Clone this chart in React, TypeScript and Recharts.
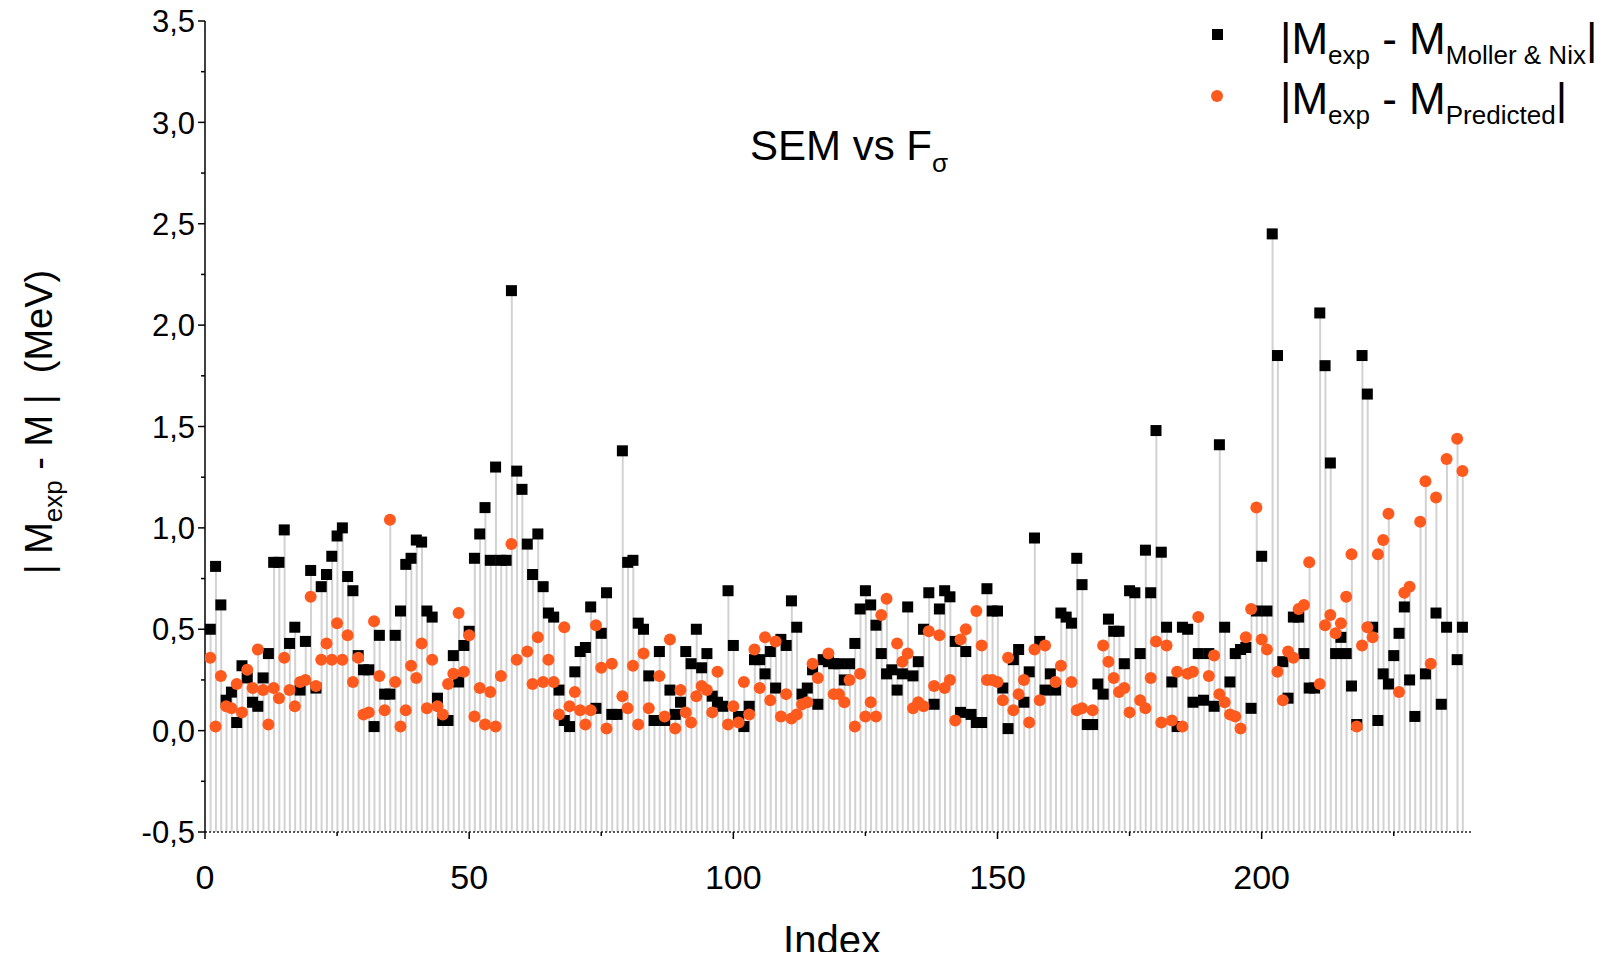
import { Bar, ComposedChart, Scatter, XAxis, YAxis } from 'recharts'

// |Mexp - M Moller & Nix| for index 1..238 (null = not visible)
const mollerNix: (number | null)[] = [
  0.5, 0.81, 0.62, 0.15, 0.19, 0.04, 0.32, 0.26, 0.14, 0.12, 0.26, 0.38, 0.83, 0.83, 0.99, 0.43, 0.51, 0.2, 0.44, 0.79,
  0.21, 0.71, 0.77, 0.86, 0.96, 1.0, 0.76, 0.69, 0.37, 0.3, 0.3, 0.02, 0.47, 0.18, 0.18, 0.47, 0.59, 0.82, 0.85, 0.94,
  0.93, 0.59, 0.56, 0.16, 0.05, 0.05, 0.37, 0.24, 0.42, 0.49, 0.85, 0.97, 1.1, 0.84, 1.3, 0.84, 0.84, 2.17, 1.28, 1.19,
  0.92, 0.77, 0.97, 0.71, 0.58, 0.56, 0.2, 0.05, 0.02, 0.29, 0.39, 0.41, 0.61, 0.11, 0.48, 0.68, 0.08, 0.08, 1.38, 0.83,
  0.84, 0.53, 0.5, 0.27, 0.05, 0.39, 0.05, 0.2, 0.08, 0.14, 0.39, 0.33, 0.5, 0.31, 0.38, 0.17, 0.14, 0.12, 0.69, 0.42,
  0.07, 0.02, 0.12, 0.35, 0.35, 0.28, 0.39, 0.21, 0.45, 0.42, 0.64, 0.51, 0.18, 0.21, 0.3, 0.13, 0.35, 0.34, 0.33, 0.33,
  0.25, 0.33, 0.43, 0.6, 0.69, 0.62, 0.52, 0.38, 0.28, 0.3, 0.2, 0.28, 0.61, 0.27, 0.34, 0.5, 0.68, 0.13, 0.6, 0.69,
  0.66, 0.44, 0.09, 0.39, 0.08, 0.04, 0.04, 0.7, 0.59, 0.59, 0.21, 0.01, 0.35, 0.4, 0.14, 0.29, 0.95, 0.44, 0.2, 0.28,
  0.2, 0.58, 0.56, 0.53, 0.85, 0.72, 0.03, 0.03, 0.23, 0.18, 0.55, 0.49, 0.49, 0.33, 0.69, 0.68, 0.38, 0.89, 0.68, 1.48,
  0.88, 0.51, 0.24, 0.02, 0.51, 0.5, 0.14, 0.38, 0.15, 0.38, 0.12, 1.41, 0.51, 0.24, 0.38, 0.4, 0.41, 0.11, 0.59, 0.86,
  0.59, 2.45, 1.85, 0.34, 0.16, 0.56, 0.56, 0.38, 0.21, 0.21, 2.06, 1.8, 1.32, 0.38, 0.46, 0.38, 0.22, 0.03, 1.85, 1.66,
  0.51, 0.05, 0.28, 0.23, 0.37, 0.48, 0.61, 0.25, 0.07, null, 0.28, null, 0.58, 0.13, 0.51, null, 0.35, 0.51,
]

// |Mexp - M Predicted| for index 1..238
const predicted: (number | null)[] = [
  0.36, 0.02, 0.27, 0.12, 0.11, 0.23, 0.09, 0.3, 0.21, 0.4, 0.2, 0.03, 0.21, 0.16, 0.36, 0.2, 0.12, 0.24, 0.25, 0.66,
  0.22, 0.35, 0.43, 0.35, 0.53, 0.35, 0.47, 0.24, 0.36, 0.08, 0.09, 0.54, 0.27, 0.1, 1.04, 0.24, 0.02, 0.1, 0.32, 0.26,
  0.43, 0.11, 0.35, 0.12, 0.08, 0.23, 0.28, 0.58, 0.29, 0.47, 0.07, 0.21, 0.03, 0.19, 0.02, 0.27, null, 0.92, 0.35, null,
  0.39, 0.23, 0.46, 0.24, 0.35, 0.24, 0.08, 0.51, 0.12, 0.19, 0.1, 0.03, 0.1, 0.52, 0.31, 0.01, 0.33, null, 0.17, 0.11,
  0.32, 0.03, 0.38, 0.11, null, 0.27, 0.07, 0.45, 0.01, 0.2, 0.09, 0.04, 0.17, 0.22, 0.2, 0.09, 0.29, null, 0.03, 0.12,
  0.04, 0.24, 0.08, 0.4, 0.21, 0.46, 0.15, 0.44, 0.07, 0.18, 0.06, 0.08, 0.13, 0.14, 0.33, 0.26, null, 0.38, 0.18, 0.18,
  0.14, 0.25, 0.02, 0.28, 0.07, 0.14, 0.07, 0.57, 0.65, null, 0.43, 0.34, 0.38, 0.11, 0.14, 0.12, 0.49, 0.22, 0.47, 0.21,
  0.25, 0.05, 0.45, 0.5, null, 0.59, 0.42, 0.25, 0.25, 0.24, 0.15, 0.36, 0.1, 0.18, 0.25, 0.04, 0.4, 0.15, 0.42, null,
  0.24, 0.32, null, 0.24, 0.1, 0.11, null, 0.1, null, 0.42, 0.34, 0.26, 0.19, 0.21, 0.09, null, 0.15, 0.11, 0.26, 0.44,
  0.04, 0.42, 0.05, 0.29, 0.02, 0.28, 0.29, 0.56, null, 0.27, 0.37, 0.18, 0.14, 0.08, 0.07, 0.01, 0.46, 0.6, 1.1, 0.45,
  0.4, null, 0.29, 0.15, 0.39, 0.36, 0.6, 0.62, 0.83, null, 0.23, 0.52, 0.57, 0.48, 0.53, 0.66, 0.87, 0.02, 0.42, 0.51,
  0.46, 0.87, 0.94, 1.07, null, 0.19, 0.68, 0.71, null, 1.03, 1.23, 0.33, 1.15, null, 1.34, null, 1.44, 1.28,
]

const yTicks = [-0.5, -0.25, 0, 0.25, 0.5, 0.75, 1, 1.25, 1.5, 1.75, 2, 2.25, 2.5, 2.75, 3, 3.25, 3.5]
const xTicks = [0, 25, 50, 75, 100, 125, 150, 175, 200, 225]
const xLabelled = [0, 50, 100, 150, 200]

const BASE = -0.5
const FONT = '"Liberation Sans", Arial, Helvetica, sans-serif'
const ORANGE = '#ff5a1e'

const stems = mollerNix.map((b, k) => ({
  i: k + 1,
  top: Math.max(b ?? BASE, predicted[k] ?? BASE),
}))
const blackPts = mollerNix.flatMap((v, k) => (v == null ? [] : [{ i: k + 1, v }]))
const orangePts = predicted.flatMap((v, k) => (v == null ? [] : [{ i: k + 1, v }]))

const fmt = (v: number) => v.toFixed(1).replace('.', ',')

function YTick(props: any) {
  const { x, y, payload } = props
  const major = Math.abs(payload.value * 2 - Math.round(payload.value * 2)) < 1e-6
  return (
    <g>
      <line x1={x - (major ? 7 : 4)} x2={x} y1={y} y2={y} stroke='#000' strokeWidth={1.5} />
      {major && (
        <text x={x - 10} y={y} dy='0.36em' textAnchor='end' fontSize={31} fontFamily={FONT} fill='#000'>
          {fmt(payload.value)}
        </text>
      )}
    </g>
  )
}

function XTick(props: any) {
  const { x, y, payload } = props
  const major = xLabelled.includes(payload.value)
  return (
    <g>
      <line x1={x} x2={x} y1={y} y2={y + (major ? 7 : 4)} stroke='#000' strokeWidth={1.5} />
      {major && (
        <text x={x} y={y + 57} textAnchor='middle' fontSize={34} fontFamily={FONT} fill='#000'>
          {payload.value}
        </text>
      )}
    </g>
  )
}

const Square = (p: any) => <rect x={p.cx - 5.5} y={p.cy - 5.5} width={11} height={11} fill='#000' />
const Dot = (p: any) => <circle cx={p.cx} cy={p.cy} r={6} fill={ORANGE} />

const sub = { fontSize: 26, verticalAlign: 'baseline', position: 'relative' as const, top: 10 }

export default function App() {
  return (
    <div style={{ position: 'relative', width: 1598, height: 944, fontFamily: FONT, color: '#000' }}>
      <div style={{ position: 'absolute', left: 0, top: -8 }}>
        <ComposedChart width={1598} height={960} data={stems} margin={{ top: 21, right: 133, bottom: 8, left: 0 }}>
          <XAxis
            dataKey='i'
            type='number'
            domain={[0, 240]}
            ticks={xTicks}
            interval={0}
            allowDataOverflow
            height={120}
            tickSize={0}
            tickMargin={0}
            tickLine={false}
            tick={<XTick />}
            axisLine={{ stroke: '#222', strokeWidth: 1.5, strokeDasharray: '2 2' }}
          />
          <YAxis
            type='number'
            domain={[-0.5, 3.5]}
            ticks={yTicks}
            interval={0}
            allowDataOverflow
            width={197}
            tickSize={0}
            tickMargin={0}
            tickLine={false}
            tick={<YTick />}
            axisLine={{ stroke: '#000', strokeWidth: 1.5 }}
          />
          <Bar dataKey={(d: any) => [BASE, d.top]} barSize={2} fill='#d2d2d2' isAnimationActive={false} />
          <Scatter data={blackPts} dataKey='v' shape={Square} isAnimationActive={false} />
          <Scatter data={orangePts} dataKey='v' shape={Dot} isAnimationActive={false} />
        </ComposedChart>
      </div>

      <div style={{ position: 'absolute', left: 841, top: 138, transform: 'translate(-50%, -50%)', fontSize: 42, whiteSpace: 'nowrap' }}>
        SEM vs F<span style={{ fontSize: 26, position: 'relative', top: 12 }}>σ</span>
      </div>

      <div style={{ position: 'absolute', left: 824, top: 912, transform: 'translateX(-50%)', fontSize: 40, lineHeight: 1 }}>
        Index
      </div>

      <div
        style={{
          position: 'absolute',
          left: 31,
          top: 414,
          transform: 'translate(-50%, -50%) rotate(-90deg)',
          fontSize: 38,
          whiteSpace: 'pre',
        }}
      >
        | M<span style={sub}>exp</span> - M |  (MeV)
      </div>

      <div style={{ position: 'absolute', left: 1203.5, top: 20.5, width: 11, height: 11, background: '#000' }} />
      <div style={{ position: 'absolute', left: 1272, top: 31, transform: 'translateY(-50%)', fontSize: 44, whiteSpace: 'nowrap', lineHeight: 1 }}>
        |M<span style={sub}>exp</span> - M<span style={sub}>Moller &amp; Nix</span>|
      </div>
      <div style={{ position: 'absolute', left: 1203, top: 82, width: 12, height: 12, borderRadius: '50%', background: ORANGE }} />
      <div style={{ position: 'absolute', left: 1272, top: 91, transform: 'translateY(-50%)', fontSize: 44, whiteSpace: 'nowrap', lineHeight: 1 }}>
        |M<span style={sub}>exp</span> - M<span style={sub}>Predicted</span>|
      </div>
    </div>
  )
}
